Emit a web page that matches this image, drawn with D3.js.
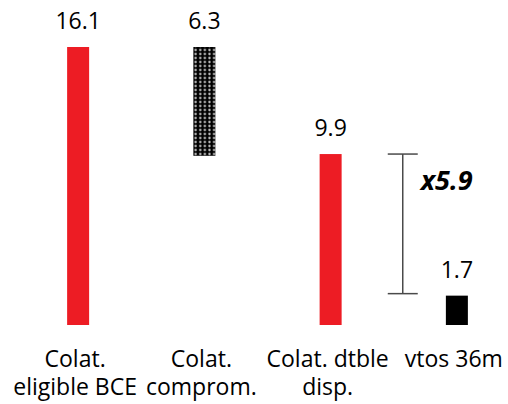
<!DOCTYPE html>
<html>
<head>
<meta charset="utf-8">
<script src="https://cdnjs.cloudflare.com/ajax/libs/d3/7.8.5/d3.min.js"></script>
<style>
  body { margin: 0; background: #fff; }
  text { font-family: "Open Sans", Calibri, sans-serif; fill: #000; }
</style>
</head>
<body>
<div id="chart"></div>
<script>
// chart data
const categories = ["Colat. eligible BCE", "Colat. compromised", "Colat. dtble disp.", "vtos 36m"];
const labelLines = [["Colat.", "eligible BCE"], ["Colat.", "comprom."], ["Colat. dtble", "disp."], ["vtos 36m"]];
const values = [16.1, 6.3, 9.9, 1.7];
const barKinds = ["total", "decrease", "total", "total"];
const ratioLabel = "x5.9";

const width = 508,
      height = 404;

// waterfall: a decrease hangs down from the previous total
let running = 0;
const bars = values.map((v, i) => {
  let lo, hi;
  if (barKinds[i] === "decrease") {
    hi = running; lo = running - v; running = lo;
  } else {
    lo = 0; hi = v; running = v;
  }
  return { cat: categories[i], value: v, lo: lo, hi: hi, kind: barKinds[i], lines: labelLines[i], idx: i };
});

const x = d3.scaleBand().domain(categories).range([15, 520]);
const y = d3.scaleLinear().domain([0, 16.1]).range([325, 47]);
const barW = 22;
const cx = (c) => x(c) + x.bandwidth() / 2;

const svg = d3.select("#chart")
  .append("svg")
  .attr("width", width)
  .attr("height", height);

// dotted fill for the decrease bar
const defs = svg.append("defs");
const pat = defs.append("pattern")
  .attr("id", "dots")
  .attr("patternUnits", "userSpaceOnUse")
  .attr("width", 4.6)
  .attr("height", 4)
  .attr("x", cx(categories[1]) - barW / 2);
pat.append("rect").attr("width", 4.6).attr("height", 4).attr("fill", "#000");
pat.append("circle").attr("cx", 2.3).attr("cy", 2).attr("r", 1.4).attr("fill", "#777");
pat.append("circle").attr("cx", 2.3).attr("cy", 2).attr("r", 0.7).attr("fill", "#ddd");

const colorOf = (d) => {
  if (d.kind === "decrease") return "url(#dots)";
  return d.idx === 3 ? "#000" : "#ed1c24";
};

svg.selectAll("rect.bar")
  .data(bars)
  .enter()
  .append("rect")
  .attr("class", "bar")
  .attr("x", (d) => cx(d.cat) - barW / 2)
  .attr("width", barW)
  .attr("y", (d) => y(d.hi))
  .attr("height", (d) => y(d.lo) - y(d.hi))
  .style("fill", colorOf);

// value labels above each bar
svg.selectAll("text.value")
  .data(bars)
  .enter()
  .append("text")
  .attr("class", "value")
  .text((d) => d.value.toFixed(1))
  .attr("x", (d) => cx(d.cat))
  .attr("y", (d) => y(d.hi) - 18)
  .attr("text-anchor", "middle")
  .style("font-size", "23px");

// category labels
const catG = svg.selectAll("text.cat")
  .data(bars)
  .enter()
  .append("text")
  .attr("class", "cat")
  .attr("x", (d) => cx(d.cat))
  .attr("y", 367)
  .attr("text-anchor", "middle")
  .style("font-size", "23px");
catG.selectAll("tspan")
  .data((d) => d.lines.map((l) => ({ line: l, c: d.cat })))
  .enter()
  .append("tspan")
  .attr("x", (d) => cx(d.c) - 3)
  .attr("dy", (d, i) => i === 0 ? 0 : 28)
  .text((d) => d.line);

// bracket between the 3rd and 4th totals
const bx = x(categories[3]) + 9;
const yTop = y(values[2]),
      yBot = y(values[3]) - 2;
const bracket = svg.append("g")
  .attr("stroke", "#4a4a4a")
  .attr("stroke-width", 1.5);
bracket.append("line").attr("x1", bx).attr("x2", bx).attr("y1", yTop).attr("y2", yBot);
bracket.append("line").attr("x1", bx - 15).attr("x2", bx + 15).attr("y1", yTop).attr("y2", yTop);
bracket.append("line").attr("x1", bx - 15).attr("x2", bx + 15).attr("y1", yBot).attr("y2", yBot);

svg.append("text")
  .text(ratioLabel)
  .attr("x", bx + 18)
  .attr("y", (yTop + yBot) / 2 - 34)
  .style("font-size", "27px")
  .style("font-weight", "bold")
  .style("font-style", "italic");
</script>
</body>
</html>
